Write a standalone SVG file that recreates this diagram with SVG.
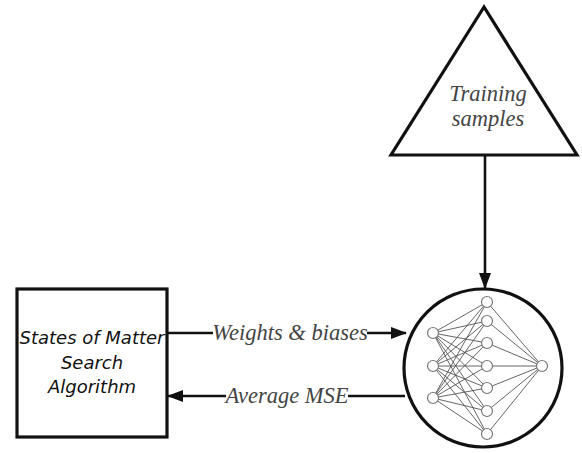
<svg xmlns="http://www.w3.org/2000/svg" width="582" height="453" viewBox="0 0 582 453">
<style>
.shape{fill:none;stroke:#111;stroke-width:3.2}
.conn{fill:none;stroke:#111;stroke-width:2.6}
.lbl{font-family:"Liberation Serif",serif;font-style:italic;font-size:22.5px;fill:#444}
.box{font-family:"DejaVu Sans","Liberation Sans",sans-serif;font-style:italic;font-size:18px;fill:#111}
.n{fill:#fff;stroke:#777;stroke-width:1.2}
.e{stroke:#555;stroke-width:0.9}
</style>
<defs>
<marker id="ah" markerWidth="16" markerHeight="12" refX="15" refY="6" orient="auto" markerUnits="userSpaceOnUse">
<path d="M0,0 L16,6 L0,12 z" fill="#111"/>
</marker>
</defs>
<rect width="582" height="453" fill="#fff"/>
<g id="training">
<polygon class="shape" points="484,7 391,155 577,155"/>
<text class="lbl" x="488" y="101" text-anchor="middle">Training</text>
<text class="lbl" x="488" y="126" text-anchor="middle">samples</text>
</g>
<g id="sms">
<rect class="shape" x="17" y="289" width="150" height="148"/>
<text class="box" x="92" y="344" text-anchor="middle">States of Matter</text>
<text class="box" x="92" y="369" text-anchor="middle">Search</text>
<text class="box" x="92" y="393" text-anchor="middle">Algorithm</text>
</g>
<g id="ann">
<circle class="shape" cx="483" cy="368" r="79"/>
<g class="e">
<line x1="433" y1="333" x2="487" y2="302"/><line x1="433" y1="333" x2="487" y2="321"/><line x1="433" y1="333" x2="487" y2="343"/><line x1="433" y1="333" x2="487" y2="366"/><line x1="433" y1="333" x2="487" y2="388"/><line x1="433" y1="333" x2="487" y2="411"/><line x1="433" y1="333" x2="487" y2="434"/>
<line x1="433" y1="366" x2="487" y2="302"/><line x1="433" y1="366" x2="487" y2="321"/><line x1="433" y1="366" x2="487" y2="343"/><line x1="433" y1="366" x2="487" y2="366"/><line x1="433" y1="366" x2="487" y2="388"/><line x1="433" y1="366" x2="487" y2="411"/><line x1="433" y1="366" x2="487" y2="434"/>
<line x1="433" y1="398" x2="487" y2="302"/><line x1="433" y1="398" x2="487" y2="321"/><line x1="433" y1="398" x2="487" y2="343"/><line x1="433" y1="398" x2="487" y2="366"/><line x1="433" y1="398" x2="487" y2="388"/><line x1="433" y1="398" x2="487" y2="411"/><line x1="433" y1="398" x2="487" y2="434"/>
<line x1="487" y1="302" x2="542" y2="366"/><line x1="487" y1="321" x2="542" y2="366"/><line x1="487" y1="343" x2="542" y2="366"/><line x1="487" y1="366" x2="542" y2="366"/><line x1="487" y1="388" x2="542" y2="366"/><line x1="487" y1="411" x2="542" y2="366"/><line x1="487" y1="434" x2="542" y2="366"/>
</g>
<circle class="n" cx="433" cy="333" r="5.5"/><circle class="n" cx="433" cy="366" r="5.5"/><circle class="n" cx="433" cy="398" r="5.5"/>
<circle class="n" cx="487" cy="302" r="5.5"/><circle class="n" cx="487" cy="321" r="5.5"/><circle class="n" cx="487" cy="343" r="5.5"/><circle class="n" cx="487" cy="366" r="5.5"/><circle class="n" cx="487" cy="388" r="5.5"/><circle class="n" cx="487" cy="411" r="5.5"/><circle class="n" cx="487" cy="434" r="5.5"/>
<circle class="n" cx="542" cy="366" r="5.5"/>
</g>
<g id="connectors">
<line class="conn" x1="485" y1="156" x2="485" y2="288" marker-end="url(#ah)"/>
<line class="conn" x1="167" y1="333" x2="213" y2="333"/>
<line class="conn" x1="367" y1="333" x2="406" y2="333" marker-end="url(#ah)"/>
<text class="lbl" x="290" y="340" text-anchor="middle">Weights &amp; biases</text>
<line class="conn" x1="405" y1="396" x2="348" y2="396"/>
<line class="conn" x1="226" y1="396" x2="168" y2="396" marker-end="url(#ah)"/>
<text class="lbl" x="287" y="403" text-anchor="middle">Average MSE</text>
</g>
</svg>
